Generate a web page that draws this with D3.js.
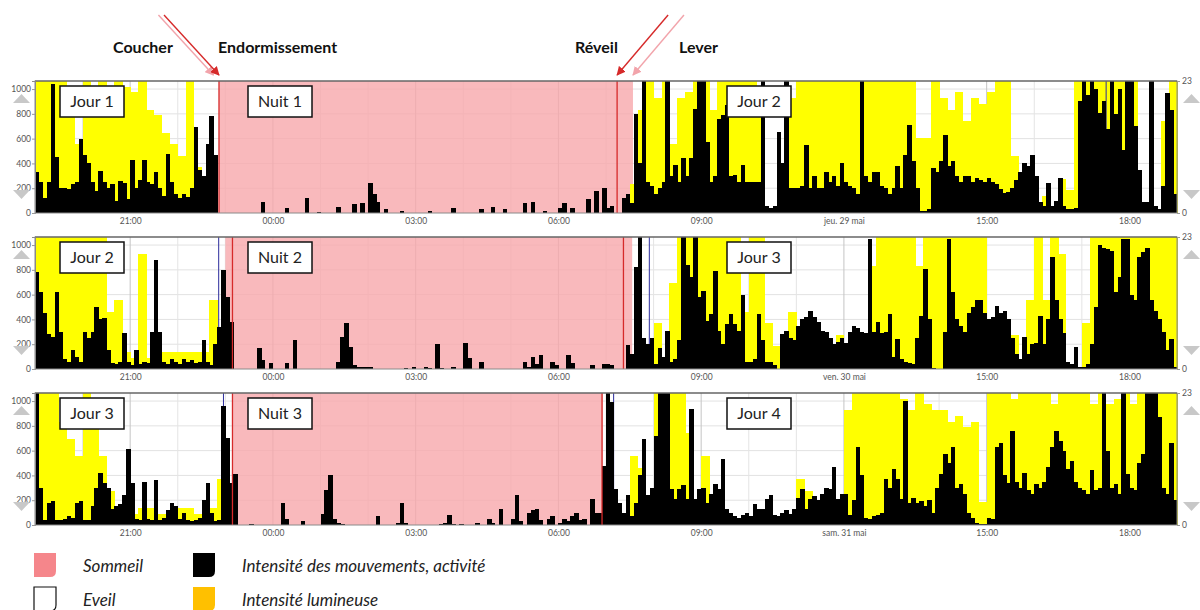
<!DOCTYPE html>
<html>
<head>
<meta charset="utf-8">
<script src="https://cdn.jsdelivr.net/npm/d3@7"></script>
<style>
  body { margin: 0; background: #fff; }
  svg { display: block; }
  text { font-family: Lato, "Open Sans", sans-serif; }
</style>
</head>
<body>
<svg></svg>
<script>
// ---- data ----
const panelStarts = ["2014-05-28 19:00", "2014-05-29 19:00", "2014-05-30 19:00"];
const dayLabels = ["Jour 1", "Jour 2", "Jour 3", "Jour 4"];
const nightLabels = ["Nuit 1", "Nuit 2", "Nuit 3"];

// sleep (pink) periods
const sleepStart = ["2014-05-28 22:52", "2014-05-29 23:00", "2014-05-30 23:09"];
const sleepEnd = ["2014-05-29 07:34", "2014-05-30 07:33", "2014-05-31 06:56"];
// red markers (endormissement / réveil) and blue event markers
const redMarks = [
  ["2014-05-28 22:52", "2014-05-29 07:14"],
  ["2014-05-29 23:09", "2014-05-30 07:22"],
  ["2014-05-30 23:09", "2014-05-31 06:55"]
];
const blueMarks = [
  ["2014-05-29 17:30"],
  ["2014-05-29 19:00", "2014-05-29 22:51", "2014-05-30 07:54"],
  ["2014-05-30 22:57", "2014-05-31 07:09"]
];

// header annotations (panel 1)
const annotLabels = ["Coucher", "Endormissement", "Réveil", "Lever"];
const annotTimes = ["2014-05-28 22:45", "2014-05-28 22:52", "2014-05-29 07:14", "2014-05-29 07:34"];

const yTicks = [0, 200, 400, 600, 800, 1000];
const lightTicks = [0, 23];

// activity, 5 min bins (12 per hour) starting 19:00
const activity1 = [
  330, 250, 120, 250, 1040, 450, 200, 200, 190, 230, 250, 600, // 19h
  470, 400, 250, 180, 340, 250, 200, 230, 100, 260, 240, 110,  // 20h
  430, 200, 270, 430, 250, 230, 330, 200, 140, 480, 250, 150,  // 21h
  120, 150, 130, 200, 690, 350, 300, 560, 780, 470, 0, 0,      // 22h
  0, 0, 0, 0, 0, 0, 0, 0, 0, 90, 0, 0,                         // 23h
  0, 0, 0, 40, 0, 0, 0, 0, 120, 0, 0, 10,                      // 00h
  0, 0, 0, 0, 50, 0, 0, 0, 70, 0, 80, 0,                       // 01h
  240, 150, 90, 0, 30, 0, 0, 0, 20, 0, 0, 0,                   // 02h
  0, 0, 0, 20, 0, 0, 0, 0, 0, 40, 0, 0,                        // 03h
  0, 0, 0, 0, 30, 0, 0, 50, 0, 0, 30, 0,                       // 04h
  0, 0, 0, 80, 0, 90, 0, 0, 20, 0, 0, 0,                       // 05h
  40, 80, 0, 40, 0, 0, 0, 110, 0, 180, 0, 200,                 // 06h
  40, 60, 0, 0, 120, 150, 80, 800, 400, 1100, 250, 220,        // 07h
  150, 200, 250, 1100, 300, 390, 250, 440, 300, 440, 840, 1100, // 08h
  1100, 575, 250, 300, 760, 790, 870, 300, 310, 250, 390, 250, // 09h
  250, 250, 250, 1100, 60, 40, 60, 650, 400, 1100, 200, 200,   // 10h
  200, 220, 550, 200, 300, 200, 200, 330, 250, 300, 220, 400,  // 11h
  250, 220, 200, 150, 1100, 300, 250, 330, 330, 220, 200, 150, // 12h
  200, 380, 200, 470, 710, 420, 200, 20, 20, 30, 360, 330,     // 13h
  420, 630, 380, 420, 300, 250, 300, 300, 250, 280, 270, 250,  // 14h
  280, 250, 230, 190, 160, 170, 200, 270, 330, 400, 380, 470,  // 15h
  300, 90, 60, 240, 60, 100, 280, 60, 30, 30, 40, 900,         // 16h
  1065, 950, 1065, 1000, 810, 900, 675, 1065, 800, 1000, 510, 1065, // 17h
  1065, 700, 350, 90, 90, 1100, 60, 30, 215, 970, 835, 150     // 18h
];
const activity2 = [
  780, 620, 450, 280, 260, 620, 300, 80, 60, 150, 100, 60,     // 19h
  300, 250, 300, 500, 400, 410, 150, 50, 40, 60, 290, 60,      // 20h
  30, 150, 40, 60, 50, 300, 880, 300, 60, 40, 80, 60,          // 21h
  40, 80, 60, 70, 50, 60, 230, 60, 30, 200, 340, 800,          // 22h
  580, 380, 0, 0, 0, 0, 0, 0, 170, 70, 0, 50,                  // 23h
  0, 0, 0, 50, 0, 230, 0, 0, 0, 0, 0, 0,                       // 00h
  0, 0, 0, 0, 60, 260, 370, 180, 30, 20, 20, 20,               // 01h
  20, 0, 0, 0, 0, 0, 0, 0, 0, 10, 0, 15,                       // 02h
  0, 0, 20, 10, 0, 200, 10, 0, 0, 15, 0, 0,                    // 03h
  210, 90, 0, 0, 60, 0, 0, 0, 0, 0, 0, 0,                      // 04h
  0, 0, 0, 60, 20, 100, 40, 110, 0, 0, 60, 30,                 // 05h
  0, 0, 110, 50, 0, 0, 0, 0, 30, 0, 0, 40,                     // 06h
  40, 30, 0, 0, 0, 190, 120, 820, 1100, 250, 200, 250,         // 07h
  40, 170, 100, 310, 60, 80, 230, 1100, 840, 740, 1100, 580,   // 08h
  630, 390, 440, 790, 310, 200, 360, 440, 360, 310, 600, 60,   // 09h
  60, 80, 440, 230, 60, 60, 30, 0, 280, 310, 250, 230,         // 10h
  350, 400, 420, 470, 420, 380, 310, 300, 250, 200, 220, 250,  // 11h
  210, 300, 350, 330, 300, 290, 1050, 300, 380, 290, 300, 440, // 12h
  100, 240, 80, 60, 50, 40, 250, 430, 810, 400, 10, 0,         // 13h
  0, 300, 1050, 620, 400, 350, 300, 450, 500, 560, 560, 450,   // 14h
  400, 420, 510, 450, 470, 400, 250, 120, 80, 260, 120, 200,   // 15h
  210, 430, 200, 400, 900, 560, 400, 290, 60, 40, 180, 20,     // 16h
  20, 40, 200, 500, 1000, 980, 970, 950, 620, 740, 1050, 1050, // 17h
  600, 560, 900, 940, 980, 560, 470, 400, 300, 150, 240, 20    // 18h
];
const activity3 = [
  1065, 300, 40, 180, 195, 40, 40, 50, 70, 60, 180, 190,       // 19h
  40, 40, 150, 300, 420, 340, 300, 130, 150, 170, 240, 610,    // 20h
  340, 50, 40, 350, 50, 40, 360, 40, 60, 120, 180, 150,        // 21h
  50, 100, 40, 30, 40, 60, 200, 340, 100, 30, 40, 960,         // 22h
  700, 340, 410, 0, 0, 0, 5, 0, 0, 0, 0, 0,                    // 23h
  0, 0, 180, 50, 0, 0, 0, 35, 0, 0, 0, 0,                      // 00h
  90, 280, 400, 50, 20, 10, 0, 0, 0, 0, 0, 0,                  // 01h
  0, 0, 75, 0, 0, 0, 0, 20, 180, 20, 0, 0,                     // 02h
  0, 0, 0, 0, 0, 0, 10, 20, 80, 10, 0, 10,                     // 03h
  0, 0, 0, 20, 0, 0, 50, 20, 0, 130, 0, 0,                     // 04h
  50, 240, 30, 0, 100, 120, 130, 40, 0, 50, 75, 0,             // 05h
  20, 50, 30, 75, 100, 40, 50, 0, 210, 100, 100, 480,          // 06h
  1065, 990, 290, 180, 100, 240, 75, 180, 400, 690, 240, 300,  // 07h
  720, 1065, 1065, 1065, 290, 210, 290, 320, 210, 935, 210, 290, // 08h
  300, 180, 250, 330, 290, 530, 130, 100, 75, 60, 80, 100,     // 09h
  70, 170, 130, 130, 210, 240, 80, 70, 100, 120, 90, 130,      // 10h
  220, 290, 130, 210, 230, 200, 250, 300, 290, 465, 210, 250,  // 11h
  250, 80, 200, 630, 400, 60, 50, 70, 80, 100, 370, 300,       // 12h
  450, 370, 210, 1000, 180, 220, 180, 190, 150, 200, 100, 300, // 13h
  415, 575, 500, 630, 300, 330, 250, 100, 60, 20, 5, 5,        // 14h
  60, 50, 630, 660, 400, 340, 760, 350, 300, 420, 280, 250,    // 15h
  330, 300, 350, 470, 630, 760, 680, 600, 450, 520, 350, 300,  // 16h
  280, 250, 440, 280, 300, 1065, 600, 300, 330, 250, 1065, 415, // 17h
  300, 280, 500, 575, 1065, 1065, 1065, 870, 300, 250, 660, 200 // 18h
];

// light intensity, 10 min bins (6 per hour) starting 19:00, right axis 0-23
const light1 = [
  23, 23, 23, 23, 18, 12,  // 19h
  23, 20, 23, 20, 23, 22,  // 20h
  21, 23, 18, 17, 14, 12,  // 21h
  10, 23, 8, 5, 0, 0,      // 22h
  0, 0, 0, 0, 0, 0,        // 23h
  0, 0, 0, 0, 0, 0,        // 00h
  0, 0, 0, 0, 0, 0,        // 01h
  0, 0, 0, 0, 0, 0,        // 02h
  0, 0, 0, 0, 0, 0,        // 03h
  0, 0, 0, 0, 0, 0,        // 04h
  0, 0, 0, 0, 0, 0,        // 05h
  0, 0, 0, 0, 0, 0,        // 06h
  0, 0, 0, 5, 18, 23,      // 07h
  20, 23, 12, 20, 21, 23,  // 08h
  23, 18, 23, 23, 23, 23,  // 09h
  23, 22, 0, 0, 3, 20,     // 10h
  23, 23, 23, 23, 23, 23,  // 11h
  23, 23, 23, 23, 23, 23,  // 12h
  23, 23, 23, 13, 13, 23,  // 13h
  20, 18, 21, 16, 20, 19,  // 14h
  21, 23, 23, 10, 0, 2,    // 15h
  0, 3, 0, 6, 4, 23,       // 16h
  23, 23, 23, 23, 23, 23,  // 17h
  23, 2, 0, 0, 16, 23      // 18h
];
const light2 = [
  23, 23, 23, 23, 23, 23,  // 19h
  23, 23, 23, 10, 12, 3,   // 20h
  2, 20, 2, 2, 3, 3,       // 21h
  3, 3, 3, 3, 12, 2,       // 22h
  0, 0, 0, 0, 0, 0,        // 23h
  0, 0, 0, 0, 0, 0,        // 00h
  0, 0, 0, 0, 0, 0,        // 01h
  0, 0, 0, 0, 0, 0,        // 02h
  0, 0, 0, 0, 0, 0,        // 03h
  0, 0, 0, 0, 0, 0,        // 04h
  0, 0, 0, 0, 0, 0,        // 05h
  0, 0, 0, 0, 0, 0,        // 06h
  0, 0, 0, 0, 0, 0,        // 07h
  8, 0, 15, 23, 23, 23,    // 08h
  23, 23, 23, 23, 23, 10,  // 09h
  23, 23, 8, 4, 0, 10,     // 10h
  0, 0, 0, 0, 0, 6,        // 11h
  0, 0, 0, 18, 23, 23,     // 12h
  23, 23, 23, 18, 23, 23,  // 13h
  23, 23, 23, 23, 23, 23,  // 14h
  0, 0, 0, 6, 0, 12,       // 15h
  23, 12, 23, 20, 0, 0,    // 16h
  8, 23, 23, 23, 23, 23,   // 17h
  23, 23, 23, 23, 23, 23   // 18h
];
const light3 = [
  23, 23, 23, 18, 15, 12,  // 19h
  23, 18, 12, 6, 2, 2,     // 20h
  2, 3, 3, 2, 2, 2,        // 21h
  3, 3, 2, 2, 3, 8,        // 22h
  0, 0, 0, 0, 0, 0,        // 23h
  0, 0, 0, 0, 0, 0,        // 00h
  0, 0, 0, 0, 0, 0,        // 01h
  0, 0, 0, 0, 0, 0,        // 02h
  0, 0, 0, 0, 0, 0,        // 03h
  0, 0, 0, 0, 0, 0,        // 04h
  0, 0, 0, 0, 0, 0,        // 05h
  0, 0, 0, 0, 0, 0,        // 06h
  0, 0, 0, 12, 10, 5,      // 07h
  23, 23, 23, 23, 16, 0,   // 08h
  12, 0, 0, 0, 0, 0,       // 09h
  0, 0, 0, 0, 0, 0,        // 10h
  8, 6, 0, 0, 0, 0,        // 11h
  20, 23, 23, 23, 23, 23,  // 12h
  23, 22, 20, 23, 21, 20,  // 13h
  20, 18, 19, 17, 18, 4,   // 14h
  23, 23, 23, 22, 23, 23,  // 15h
  23, 23, 21, 23, 23, 23,  // 16h
  23, 21, 23, 21, 22, 23,  // 17h
  21, 23, 23, 23, 23, 23   // 18h
];

const activity = [activity1, activity2, activity3];
const light = [light1, light2, light3];

// legend
const legendLabels = ["Sommeil", "Intensité des mouvements, activité", "Eveil", "Intensité lumineuse"];
const legendColors = ["#f5868b", "#000000", "#ffffff", "#ffc000"];

// ---- layout ----
const width = 1200, height = 610;
const plotLeft = 35, plotRight = 1177, panelH = 132;
const panelTops = [81, 237, 393];
const plotW = plotRight - plotLeft;

const svg = d3.select("svg")
    .attr("width", width)
    .attr("height", height);

const parse = d3.timeParse("%Y-%m-%d %H:%M");
const fr = d3.timeFormatLocale({
    dateTime: "%A %e %B %Y à %X",
    date: "%d/%m/%Y",
    time: "%H:%M:%S",
    periods: ["AM", "PM"],
    days: ["dimanche", "lundi", "mardi", "mercredi", "jeudi", "vendredi", "samedi"],
    shortDays: ["dim.", "lun.", "mar.", "mer.", "jeu.", "ven.", "sam."],
    months: ["janvier", "février", "mars", "avril", "mai", "juin", "juillet", "août", "septembre", "octobre", "novembre", "décembre"],
    shortMonths: ["janv.", "févr.", "mars", "avr.", "mai", "juin", "juil.", "août", "sept.", "oct.", "nov.", "déc."]
});
const fmtDay = fr.format("%a %e %b");
const fmtHour = d3.timeFormat("%H:%M");

const y = d3.scaleLinear().domain([0, 1065]).range([panelH, 0]).clamp(true);
const yLight = d3.scaleLinear().domain([0, 23]).range([panelH, 0]).clamp(true);

let panelX = [];

panelStarts.forEach((start, i) => {
    const t0 = parse(start);
    const t1 = d3.timeHour.offset(t0, 24);
    const x = d3.scaleTime().domain([t0, t1]).range([0, plotW]);
    panelX.push(x);

    const g = svg.append("g")
        .attr("transform", `translate(${plotLeft}, ${panelTops[i]})`);

    // grid
    g.append("g").selectAll("line")
        .data(yTicks.slice(1))
        .enter().append("line")
        .attr("x1", 0).attr("x2", plotW)
        .attr("y1", d => y(d)).attr("y2", d => y(d))
        .attr("stroke", "#e2e2e2");

    const hours = d3.timeHour.range(d3.timeHour.offset(t0, 1), t1);
    g.append("g").selectAll("line")
        .data(hours)
        .enter().append("line")
        .attr("x1", d => x(d)).attr("x2", d => x(d))
        .attr("y1", 0).attr("y2", panelH)
        .attr("stroke", d => d.getHours() % 3 === 0 ? "#c4c4c4" : "#e4e4e4");

    // sleep period
    g.append("rect")
        .attr("x", x(parse(sleepStart[i])))
        .attr("width", x(parse(sleepEnd[i])) - x(parse(sleepStart[i])))
        .attr("y", 0)
        .attr("height", panelH)
        .attr("fill", "#f7a8ab")
        .attr("opacity", 0.8);

    // light
    g.append("g")
        .attr("shape-rendering", "crispEdges")
        .selectAll("rect")
        .data(light[i])
        .enter().append("rect")
        .attr("x", (d, j) => x(d3.timeMinute.offset(t0, 10 * j)))
        .attr("width", (d, j) => x(d3.timeMinute.offset(t0, 10 * (j + 1))) - x(d3.timeMinute.offset(t0, 10 * j)) + 0.5)
        .attr("y", d => yLight(d))
        .attr("height", d => panelH - yLight(d))
        .attr("fill", "#ffff00");

    // blue markers
    g.append("g").selectAll("line")
        .data(blueMarks[i])
        .enter().append("line")
        .attr("x1", d => x(parse(d)) + 0.5).attr("x2", d => x(parse(d)) + 0.5)
        .attr("y1", 0).attr("y2", panelH)
        .attr("stroke", "#2b2b9c")
        .attr("stroke-width", 1);

    // activity
    g.append("g")
        .attr("shape-rendering", "crispEdges")
        .selectAll("rect")
        .data(activity[i])
        .enter().append("rect")
        .attr("x", (d, j) => x(d3.timeMinute.offset(t0, 5 * j)))
        .attr("width", (d, j) => x(d3.timeMinute.offset(t0, 5 * (j + 1))) - x(d3.timeMinute.offset(t0, 5 * j)) + 0.5)
        .attr("y", d => y(d))
        .attr("height", d => panelH - y(d))
        .attr("fill", "#000");

    // red markers
    g.append("g").selectAll("line")
        .data(redMarks[i])
        .enter().append("line")
        .attr("x1", d => x(parse(d))).attr("x2", d => x(parse(d)))
        .attr("y1", 0).attr("y2", panelH)
        .attr("stroke", "#d62a2a")
        .attr("stroke-width", 1.3);

    // frame
    g.append("rect")
        .attr("width", plotW).attr("height", panelH)
        .attr("fill", "none")
        .attr("stroke", "#8a8a8a");
    g.append("line")
        .attr("x1", 0).attr("x2", plotW)
        .attr("y1", 0).attr("y2", 0)
        .attr("stroke", "#555");

    // axes
    const xAxis = g.append("g")
        .attr("transform", `translate(0, ${panelH})`)
        .call(d3.axisBottom(x)
            .ticks(d3.timeHour.every(3))
            .tickSize(0)
            .tickPadding(5)
            .tickFormat(d => d.getHours() === 12 ? fmtDay(d) : fmtHour(d)));
    xAxis.select(".domain").remove();
    xAxis.selectAll("text")
        .attr("font-family", "Liberation Sans, Arial, sans-serif")
        .attr("font-size", 8.5)
        .attr("fill", "#555");

    const yAxis = g.append("g")
        .call(d3.axisLeft(y).tickValues(yTicks).tickFormat(d3.format("d")).tickSize(3).tickPadding(1));
    yAxis.select(".domain").attr("stroke", "#8a8a8a");
    yAxis.selectAll(".tick line").attr("stroke", "#999");
    yAxis.selectAll("text")
        .attr("font-family", "Liberation Sans, Arial, sans-serif")
        .attr("font-size", 8.5)
        .attr("fill", "#555");

    const rAxis = g.append("g")
        .attr("transform", `translate(${plotW}, 0)`)
        .call(d3.axisRight(yLight).tickValues(lightTicks).tickSize(3).tickPadding(2));
    rAxis.select(".domain").attr("stroke", "#a8a860");
    rAxis.selectAll(".tick line").attr("stroke", "#999");
    rAxis.selectAll("text")
        .attr("font-family", "Liberation Sans, Arial, sans-serif")
        .attr("font-size", 8.5)
        .attr("fill", "#555");

    // scroll arrows
    const tri = [[-22, 22, -5, 22, -13.5, 13], [-22, 109, -5, 109, -13.5, 118],
                 [plotW + 6, 22, plotW + 23, 22, plotW + 14.5, 13], [plotW + 6, 109, plotW + 23, 109, plotW + 14.5, 118]];
    g.append("g").selectAll("path")
        .data(tri)
        .enter().append("path")
        .attr("d", p => `M${p[0]},${p[1]}L${p[2]},${p[3]}L${p[4]},${p[5]}Z`)
        .attr("fill", "#c8c8c8");

    // label boxes
    const boxes = [dayLabels[i], nightLabels[i], dayLabels[i + 1]];
    const boxX = [25, 213, 692];
    const bg = g.append("g").selectAll("g")
        .data(boxes)
        .enter().append("g")
        .attr("transform", (d, k) => `translate(${boxX[k]}, 5)`);
    bg.append("rect")
        .attr("width", 64).attr("height", 31)
        .attr("fill", "#fff")
        .attr("stroke", "#111")
        .attr("stroke-width", 1.5);
    bg.append("text")
        .attr("x", 32).attr("y", 21)
        .attr("text-anchor", "middle")
        .attr("font-size", 16)
        .attr("fill", "#222")
        .text(d => d);
});

// ---- header annotations ----
const defs = svg.append("defs");
const arrowColors = ["#f2a4ab", "#d62a2a", "#d62a2a", "#f2a4ab"];
arrowColors.forEach((c, k) => {
    defs.append("marker")
        .attr("id", "arrow" + k)
        .attr("viewBox", "0 0 10 10")
        .attr("refX", 9).attr("refY", 5)
        .attr("markerWidth", 9).attr("markerHeight", 9)
        .attr("markerUnits", "userSpaceOnUse")
        .attr("orient", "auto")
        .append("path")
        .attr("d", "M0,0L10,5L0,10Z")
        .attr("fill", c);
});

const labelX = [113, 218, 575, 679];
const arrowDx = [-55, -55, 51, 51];
annotTimes.forEach((t, k) => {
    const tipX = plotLeft + panelX[0](parse(t));
    svg.append("line")
        .attr("x1", tipX + arrowDx[k]).attr("y1", 15)
        .attr("x2", tipX).attr("y2", 75)
        .attr("stroke", arrowColors[k])
        .attr("stroke-width", 1.4)
        .attr("marker-end", `url(#arrow${k})`);
    svg.append("text")
        .attr("x", labelX[k]).attr("y", 53)
        .attr("font-size", 16)
        .attr("font-weight", "bold")
        .attr("fill", "#111")
        .text(annotLabels[k]);
});

// ---- legend ----
const legendPos = [[34, 553], [193, 553], [34, 587], [193, 587]];
const lg = svg.append("g").selectAll("g")
    .data(legendLabels)
    .enter().append("g")
    .attr("transform", (d, k) => `translate(${legendPos[k][0]}, ${legendPos[k][1]})`);
lg.append("path")
    .attr("d", "M0,0H22V18Q22,24 16,24H0Z")
    .attr("fill", (d, k) => legendColors[k])
    .attr("stroke", (d, k) => k === 2 ? "#111" : "none")
    .attr("stroke-width", 1.2);
lg.append("text")
    .attr("x", 49).attr("y", 19)
    .attr("font-size", 17)
    .attr("font-style", "italic")
    .attr("fill", "#222")
    .text(d => d);
</script>
</body>
</html>
